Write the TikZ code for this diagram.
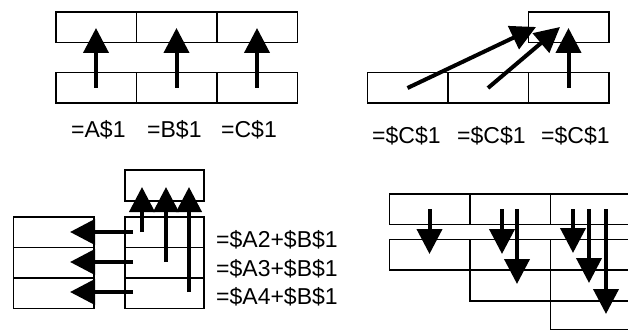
\documentclass[tikz,border=0pt]{standalone}
\usepackage{fontspec}
\setmainfont{Liberation Sans}
\usetikzlibrary{arrows.meta}
\begin{document}
\begin{tikzpicture}[x=1pt,y=-1pt,
  cell/.style={draw, line width=1.5pt, minimum width=80.5pt, minimum height=30.5pt, inner sep=0pt, outer sep=0pt},
  ref/.style={line width=4pt, -{Triangle[length=25pt,width=25pt]}},
  formula/.style={anchor=base west, inner sep=0pt, font=\fontsize{23}{27}\selectfont}]
\useasboundingbox (0,0) rectangle (628,331);
\clip (0,0) rectangle (628,331);

% --- relative references copied along a row ---
\node[cell] (ta1) at (96,27.5) {};
\node[cell] (tb1) at (176.5,27.5) {};
\node[cell] (tc1) at (257,27.5) {};
\node[cell] (ta2) at (96,88) {};
\node[cell] (tb2) at (176.5,88) {};
\node[cell] (tc2) at (257,88) {};
\coordinate (tipA) at (96,28);
\coordinate (tipB) at (176.5,28);
\coordinate (tipC) at (257,28);
\draw[ref] (ta2.center) -- (tipA);
\draw[ref] (tb2.center) -- (tipB);
\draw[ref] (tc2.center) -- (tipC);
\node[formula] (fa) at (71,138) {=A\$1};
\node[formula] (fb) at (147,138) {=B\$1};
\node[formula] (fc) at (221,138) {=C\$1};

% --- absolute reference copied along a row ---
\node[cell] (rt) at (568.5,27.5) {};
\node[cell] (ra) at (407.5,88) {};
\node[cell] (rb) at (488,88) {};
\node[cell] (rc) at (568.5,88) {};
\coordinate (rtipA) at (536,27);
\coordinate (rtipB) at (560,27);
\coordinate (rtipC) at (568.5,28);
\draw[ref] (ra.center) -- (rtipA);
\draw[ref] (rb.center) -- (rtipB);
\draw[ref] (rc.center) -- (rtipC);
\node[formula] (fr1) at (372,143) {=\$C\$1};
\node[formula] (fr2) at (457,143) {=\$C\$1};
\node[formula] (fr3) at (541,143) {=\$C\$1};

% --- mixed references copied down a column ---
\node[cell, minimum width=79pt, minimum height=31pt] (ls) at (164.5,185.5) {};
\node[cell] (l1) at (53.5,232) {};
\node[cell] (l2) at (53.5,262.5) {};
\node[cell] (l3) at (53.5,293) {};
\node[cell, minimum width=79pt] (m1) at (164.5,232) {};
\node[cell, minimum width=79pt] (m2) at (164.5,262.5) {};
\node[cell, minimum width=79pt] (m3) at (164.5,293) {};
\coordinate (ms1) at (133,232);
\coordinate (ms2) at (133,262);
\coordinate (ms3) at (133,292);
\coordinate (lt1) at (70,232);
\coordinate (lt2) at (70,262);
\coordinate (lt3) at (70,292);
\draw[ref] (ms1) -- (lt1);
\draw[ref] (ms2) -- (lt2);
\draw[ref] (ms3) -- (lt3);
\coordinate (us1) at (142,232);
\coordinate (us2) at (166,262);
\coordinate (us3) at (189,292);
\coordinate (ut1) at (142,187);
\coordinate (ut2) at (166,187);
\coordinate (ut3) at (189,187);
\draw[ref] (us1) -- (ut1);
\draw[ref] (us2) -- (ut2);
\draw[ref] (us3) -- (ut3);
\node[formula] (fm1) at (216,247) {=\$A2+\$B\$1};
\node[formula] (fm2) at (216,276) {=\$A3+\$B\$1};
\node[formula] (fm3) at (216,304) {=\$A4+\$B\$1};

% --- staircase of cells shifted down ---
\node[cell] (g11) at (429.5,209) {};
\node[cell] (g12) at (510,209) {};
\node[cell] (g13) at (590.5,209) {};
\node[cell] (g21) at (429.5,254.5) {};
\node[cell] (g22) at (510,254.5) {};
\node[cell] (g23) at (590.5,254.5) {};
\node[cell] (g32) at (510,285.5) {};
\node[cell] (g33) at (590.5,285.5) {};
\node[cell, minimum height=29pt] (g43) at (590.5,315) {};
\coordinate (gt1) at (429.5,254);
\coordinate (gs2a) at (502,209);
\coordinate (gt2a) at (502,254);
\coordinate (gs2b) at (517,209);
\coordinate (gt2b) at (517,284);
\coordinate (gs3a) at (573,209);
\coordinate (gt3a) at (573,253);
\coordinate (gs3b) at (589,209);
\coordinate (gt3b) at (589,283);
\coordinate (gs3c) at (606,209);
\coordinate (gt3c) at (606,314);
\draw[ref] (g11.center) -- (gt1);
\draw[ref] (gs2a) -- (gt2a);
\draw[ref] (gs2b) -- (gt2b);
\draw[ref] (gs3a) -- (gt3a);
\draw[ref] (gs3b) -- (gt3b);
\draw[ref] (gs3c) -- (gt3c);
\end{tikzpicture}
\end{document}
